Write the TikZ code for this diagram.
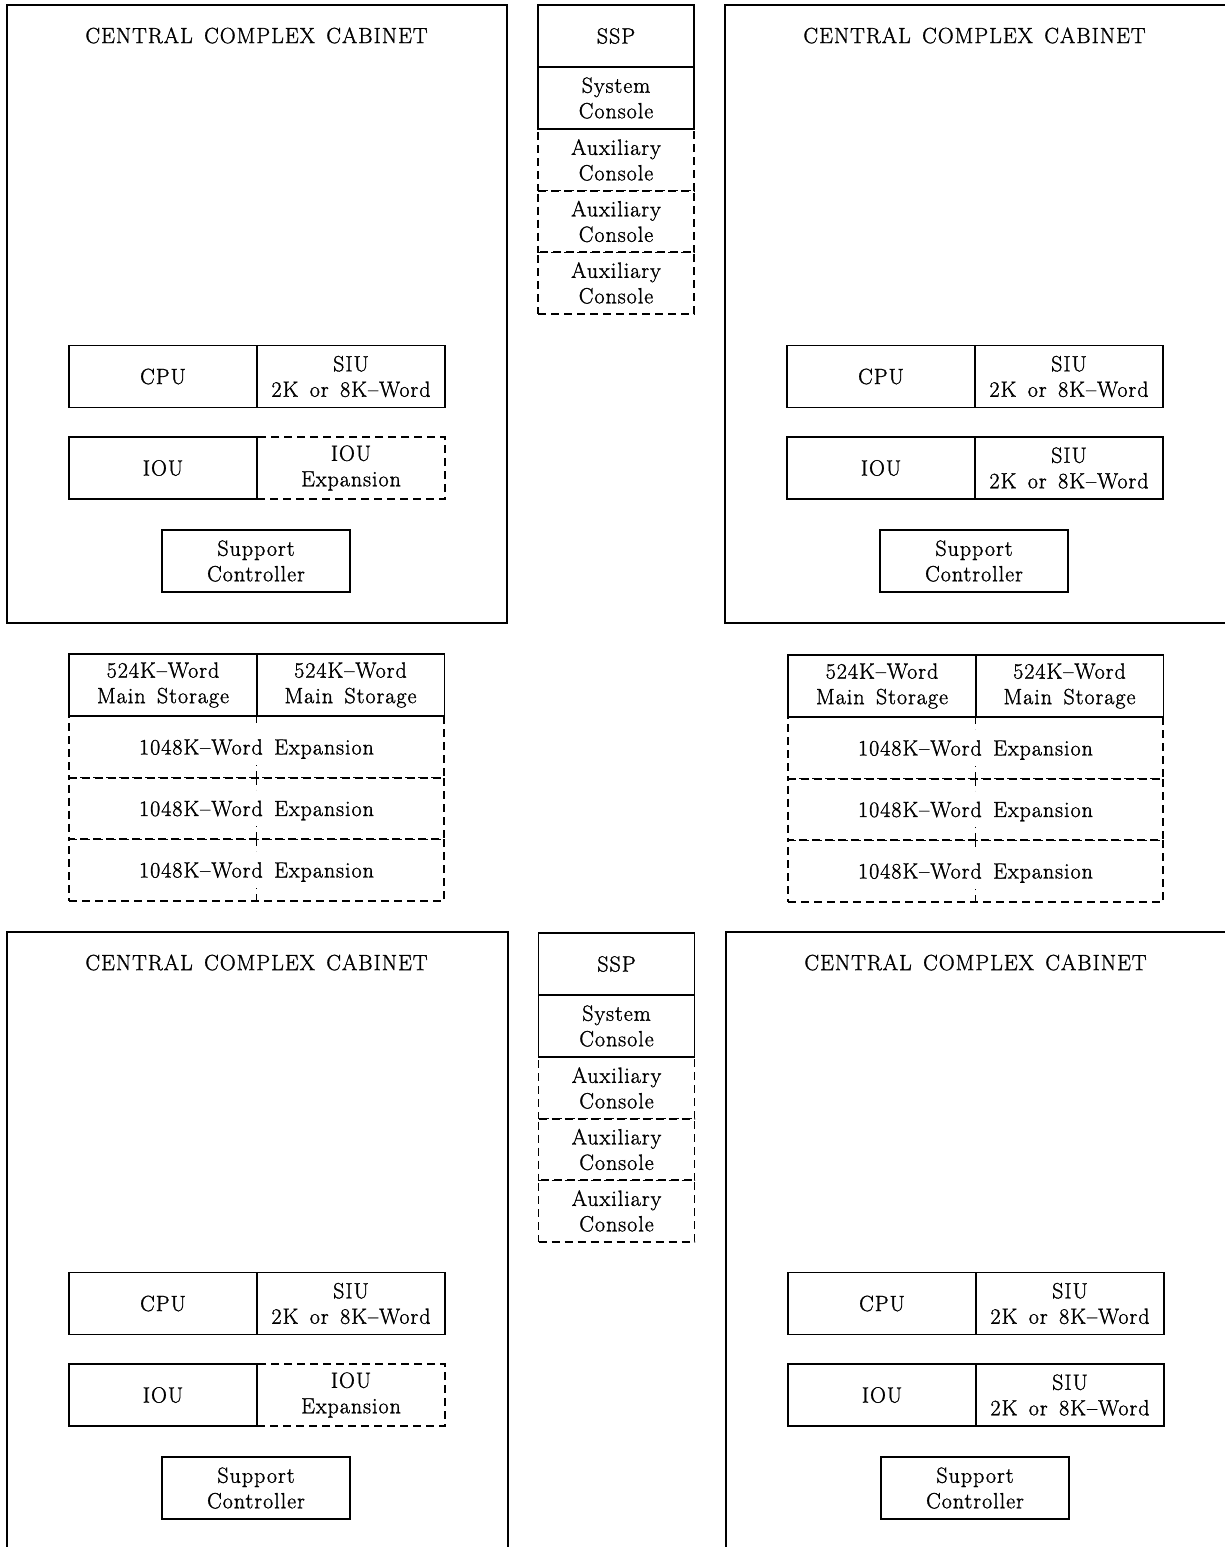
\documentclass[tikz,border=0pt]{standalone}
\usepackage{fontspec}
\setmainfont{Latin Modern Roman}[LetterSpace=4.5,WordSpace=1.5,FakeBold=1.3]
\tikzset{
  txt/.style={font=\fontsize{22}{25.5}\selectfont},
  unitbox/.style={txt, draw, line width=1.7pt, minimum width=188pt, minimum height=62pt, inner sep=0pt, align=center},
  dsh/.style={line width=1.4pt, dash pattern=on 8pt off 5pt},
  dunitbox/.style={unitbox, dsh},
  cabbox/.style={draw, line width=1.5pt, minimum height=618pt, inner sep=0pt},
  titletxt/.style={txt, inner sep=0pt},
  sspbox/.style={unitbox, minimum width=156pt},
  dsspbox/.style={sspbox, dsh},
  rowbox/.style={dunitbox, minimum width=375pt},
}
% #1 prefix, #2 x, #3 y, #4 style of the right IOU cell, #5 its text, #6 cabinet width
\newcommand\cabgroup[6]{%
  \begin{scope}[shift={(#2,#3)}]
    \node[cabbox, minimum width=#6pt] (#1cab) at (#6/2,309) {};
    \node[titletxt] (#1title) at (249.5,30.5) {CENTRAL COMPLEX CABINET};
    \node[#4] (#1iox) at (344,463) {#5};
    \node[unitbox] (#1cpu) at (156,371.5) {CPU};
    \node[unitbox] (#1siu) at (344,371.5) {SIU\\2K or 8K--Word};
    \node[unitbox] (#1iou) at (156,463) {IOU};
    \node[unitbox] (#1sc) at (249,556) {Support\\Controller};
  \end{scope}}
\newcommand\sspgroup[3]{%
  \begin{scope}[shift={(#2,#3)}]
    \node[dsspbox] (#1aux1) at (0,155) {Auxiliary\\Console};
    \node[dsspbox] (#1aux2) at (0,216.5) {Auxiliary\\Console};
    \node[dsspbox] (#1aux3) at (0,278) {Auxiliary\\Console};
    \node[sspbox] (#1ssp) at (0,31) {SSP};
    \node[sspbox] (#1sys) at (0,93) {System\\Console};
  \end{scope}}
\newcommand\storegroup[3]{%
  \begin{scope}[shift={(#2,#3)}]
    \foreach \r/\yy in {1/93,2/154.5,3/216}{
      \node[rowbox] (#1e\r) at (187.5,\yy) {};
      \draw[dsh] (#1e\r.north) -- ++(0,13);
      \draw[dsh] (#1e\r.south) -- ++(0,-14);
      \node[txt, inner sep=0pt] (#1l\r) at ([yshift=-2pt]#1e\r.center) {1048K--Word Expansion};
    }
    \node[unitbox] (#1m1) at (94,31) {524K--Word\\Main Storage};
    \node[unitbox] (#1m2) at (281.5,31) {524K--Word\\Main Storage};
  \end{scope}}
\begin{document}
\begin{tikzpicture}[x=1pt,y=-1pt]
  \useasboundingbox (0,0) rectangle (1225,1547);
  \fill[white] (0,0) rectangle (1225,1547);
  \cabgroup{a}{7}{5}{dunitbox}{IOU\\Expansion}{500}
  \cabgroup{b}{725}{5}{unitbox}{SIU\\2K or 8K--Word}{530}
  \cabgroup{c}{7}{932}{dunitbox}{IOU\\Expansion}{501}
  \cabgroup{d}{726}{932}{unitbox}{SIU\\2K or 8K--Word}{530}
  \sspgroup{s}{616}{5}
  \sspgroup{t}{616.5}{933}
  \storegroup{p}{69}{654}
  \storegroup{q}{788}{655}
\end{tikzpicture}
\end{document}
